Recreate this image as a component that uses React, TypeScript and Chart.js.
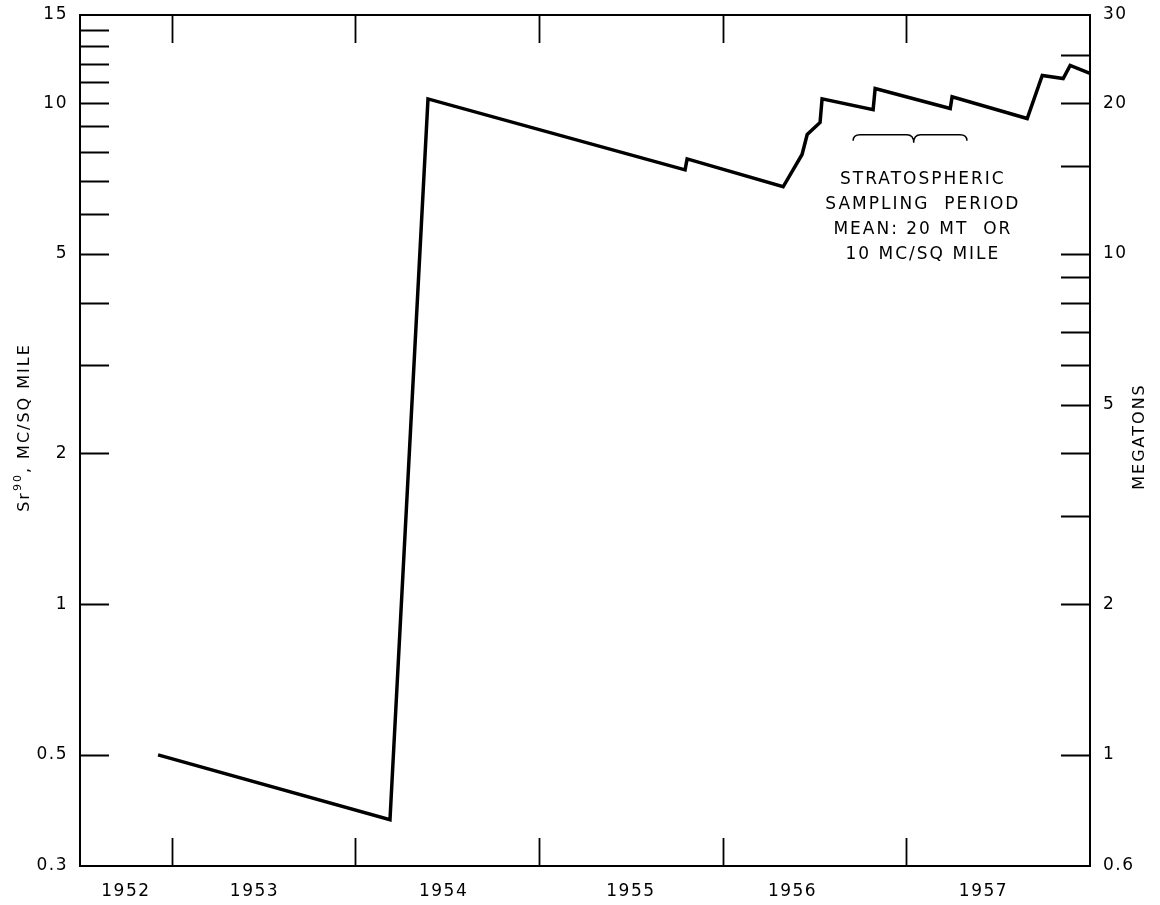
import React, { useEffect, useRef } from 'react';
import { Chart, registerables } from 'chart.js';

Chart.register(...registerables);

// ---- data (time in decimal years, Sr90 in MC / sq mile) ----
const times = [1952.925, 1954.188, 1954.395, 1955.795, 1955.806, 1956.329, 1956.432, 1956.46, 1956.53, 1956.541, 1956.819, 1956.83, 1957.239, 1957.249, 1957.658, 1957.74, 1957.854, 1957.892, 1958.0];
const sr90 = [0.5, 0.371, 10.2, 7.36, 7.74, 6.81, 7.9, 8.66, 9.15, 10.2, 9.71, 10.7, 9.76, 10.3, 9.32, 11.36, 11.2, 11.9, 11.47];

// ---- axes ----
const xLabelValues = [1952.75, 1953.45, 1954.48, 1955.5, 1956.38, 1957.42];
const xLabels = ['1952', '1953', '1954', '1955', '1956', '1957'];
const xTickMarks = [1953, 1954, 1955, 1956, 1957];
const leftLabelValues = [0.3, 0.5, 1, 2, 5, 10, 15];
const leftTickMarks = [0.5, 1, 2, 3, 4, 5, 6, 7, 8, 9, 10, 11, 12, 13, 14];
const rightLabelValues = [0.6, 1, 2, 5, 10, 20, 30];
const rightTickMarks = [1, 2, 3, 4, 5, 6, 7, 8, 9, 10, 15, 20, 25];
const leftTitleParts = ['Sr', '90', ', MC/SQ MILE'];
const rightTitle = 'MEGATONS';

// ---- annotation ----
const noteLines = ['STRATOSPHERIC', 'SAMPLING  PERIOD', 'MEAN: 20 MT  OR', '10 MC/SQ MILE'];
const braceStart = 1956.71;
const braceMid = 1957.04;
const braceEnd = 1957.33;
const braceLevel = 8.65;
const noteCenter = 1957.09;

const FONT = "'DejaVu Sans', 'Liberation Sans', sans-serif";

const decorPlugin = {
  id: 'decor',
  beforeDraw(chart: any) {
    chart.ctx.letterSpacing = '1.5px';
  },
  afterDraw(chart: any) {
    const { ctx, chartArea: a, scales } = chart;
    const x = scales.x;
    const y = scales.y;
    const y2 = scales.y2;
    ctx.save();
    ctx.letterSpacing = '0px';
    ctx.strokeStyle = '#000';
    ctx.lineWidth = 2;
    ctx.strokeRect(a.left, a.top, a.right - a.left, a.bottom - a.top);
    ctx.lineWidth = 1.8;
    ctx.beginPath();
    for (const v of xTickMarks) {
      const px = Math.round(x.getPixelForValue(v)) + 0.5;
      ctx.moveTo(px, a.bottom);
      ctx.lineTo(px, a.bottom - 28);
      ctx.moveTo(px, a.top);
      ctx.lineTo(px, a.top + 28);
    }
    for (const v of leftTickMarks) {
      const py = Math.round(y.getPixelForValue(v)) + 0.5;
      ctx.moveTo(a.left, py);
      ctx.lineTo(a.left + 29, py);
    }
    for (const v of rightTickMarks) {
      const py = Math.round(y2.getPixelForValue(v)) + 0.5;
      ctx.moveTo(a.right, py);
      ctx.lineTo(a.right - 29, py);
    }
    ctx.stroke();

    // axis titles (both read bottom-to-top)
    ctx.fillStyle = '#000';
    ctx.textBaseline = 'middle';
    const cy = (a.top + a.bottom) / 2;

    // left title with a real superscript
    ctx.save();
    ctx.letterSpacing = '2px';
    const mainFont = `16px ${FONT}`;
    const supFont = `11px ${FONT}`;
    ctx.font = mainFont;
    const w0 = ctx.measureText(leftTitleParts[0]).width;
    const w2 = ctx.measureText(leftTitleParts[2]).width;
    ctx.font = supFont;
    const w1 = ctx.measureText(leftTitleParts[1]).width;
    const total = w0 + w1 + w2;
    ctx.translate(25, cy - 13);
    ctx.rotate(-Math.PI / 2);
    ctx.textAlign = 'left';
    let cx = -total / 2;
    ctx.font = mainFont;
    ctx.fillText(leftTitleParts[0], cx, 0);
    cx += w0;
    ctx.font = supFont;
    ctx.fillText(leftTitleParts[1], cx, -7);
    cx += w1;
    ctx.font = mainFont;
    ctx.fillText(leftTitleParts[2], cx, 0);
    ctx.restore();

    ctx.textAlign = 'center';
    ctx.save();
    ctx.font = `16px ${FONT}`;
    ctx.letterSpacing = '2px';
    ctx.translate(1140, cy - 4);
    ctx.rotate(-Math.PI / 2);
    ctx.fillText(rightTitle, 0, 0);
    ctx.restore();

    // brace
    const xs = x.getPixelForValue(braceStart);
    const xm = x.getPixelForValue(braceMid);
    const xe = x.getPixelForValue(braceEnd);
    const yb = y.getPixelForValue(braceLevel);
    ctx.lineWidth = 1.5;
    ctx.beginPath();
    ctx.moveTo(xs, yb + 6);
    ctx.quadraticCurveTo(xs, yb, xs + 7, yb);
    ctx.lineTo(xm - 7, yb);
    ctx.quadraticCurveTo(xm, yb, xm, yb + 8);
    ctx.quadraticCurveTo(xm, yb, xm + 7, yb);
    ctx.lineTo(xe - 7, yb);
    ctx.quadraticCurveTo(xe, yb, xe, yb + 6);
    ctx.stroke();

    // note text
    ctx.letterSpacing = '2px';
    ctx.font = `17px ${FONT}`;
    const nx = x.getPixelForValue(noteCenter);
    noteLines.forEach((t, i) => {
      ctx.fillText(t, nx, yb + 45 + i * 25);
    });
    ctx.restore();
  },
};

const zeroVPad = (s: any) => {
  s.paddingTop = 0;
  s.paddingBottom = 0;
};

export default function App() {
  const ref = useRef<HTMLCanvasElement | null>(null);
  useEffect(() => {
    if (!ref.current) return;
    const points = times.map((t, i) => ({ x: t, y: sr90[i] }));
    const chart = new Chart(ref.current, {
      type: 'line',
      data: {
        datasets: [
          {
            data: points,
            borderColor: '#000',
            borderWidth: 3.5,
            pointRadius: 0,
            tension: 0,
            fill: false,
            borderJoinStyle: 'miter',
            xAxisID: 'x',
            yAxisID: 'y',
          },
        ],
      },
      options: {
        animation: false,
        responsive: true,
        maintainAspectRatio: false,
        layout: { padding: { top: 15, left: 0, right: 0, bottom: 0 } },
        plugins: { legend: { display: false }, tooltip: { enabled: false } },
        scales: {
          x: {
            type: 'linear',
            min: 1952.5,
            max: 1958.0,
            grid: { display: false, drawTicks: false },
            border: { display: false },
            afterBuildTicks: (s: any) => {
              s.ticks = xLabelValues.map((v) => ({ value: v }));
            },
            afterFit: (s: any) => {
              s.height = 39;
              s.paddingLeft = 0;
              s.paddingRight = 0;
            },
            ticks: {
              autoSkip: false,
              maxRotation: 0,
              padding: 15,
              color: '#000',
              font: { family: FONT, size: 17 },
              callback: (v: any) => xLabels[xLabelValues.indexOf(Number(v))] ?? '',
            },
          },
          y: {
            type: 'logarithmic',
            position: 'left',
            min: 0.3,
            max: 15,
            grid: { display: false, drawTicks: false },
            border: { display: false },
            afterBuildTicks: (s: any) => {
              s.ticks = leftLabelValues.map((v) => ({ value: v }));
            },
            afterFit: (s: any) => {
              s.width = 80;
              zeroVPad(s);
            },
            ticks: {
              autoSkip: false,
              padding: 12,
              color: '#000',
              font: { family: FONT, size: 17 },
              callback: (v: any) => String(v),
            },
          },
          y2: {
            type: 'logarithmic',
            position: 'right',
            min: 0.6,
            max: 30,
            grid: { display: false, drawTicks: false },
            border: { display: false },
            afterBuildTicks: (s: any) => {
              s.ticks = rightLabelValues.map((v) => ({ value: v }));
            },
            afterFit: (s: any) => {
              s.width = 70;
              zeroVPad(s);
            },
            ticks: {
              autoSkip: false,
              padding: 13,
              color: '#000',
              font: { family: FONT, size: 17 },
              callback: (v: any) => String(v),
            },
          },
        },
      },
      plugins: [decorPlugin],
    });
    return () => chart.destroy();
  }, []);
  return (
    <div style={{ position: 'absolute', left: 0, top: 0, width: 1160, height: 905, background: '#fff' }}>
      <canvas ref={ref} />
    </div>
  );
}
